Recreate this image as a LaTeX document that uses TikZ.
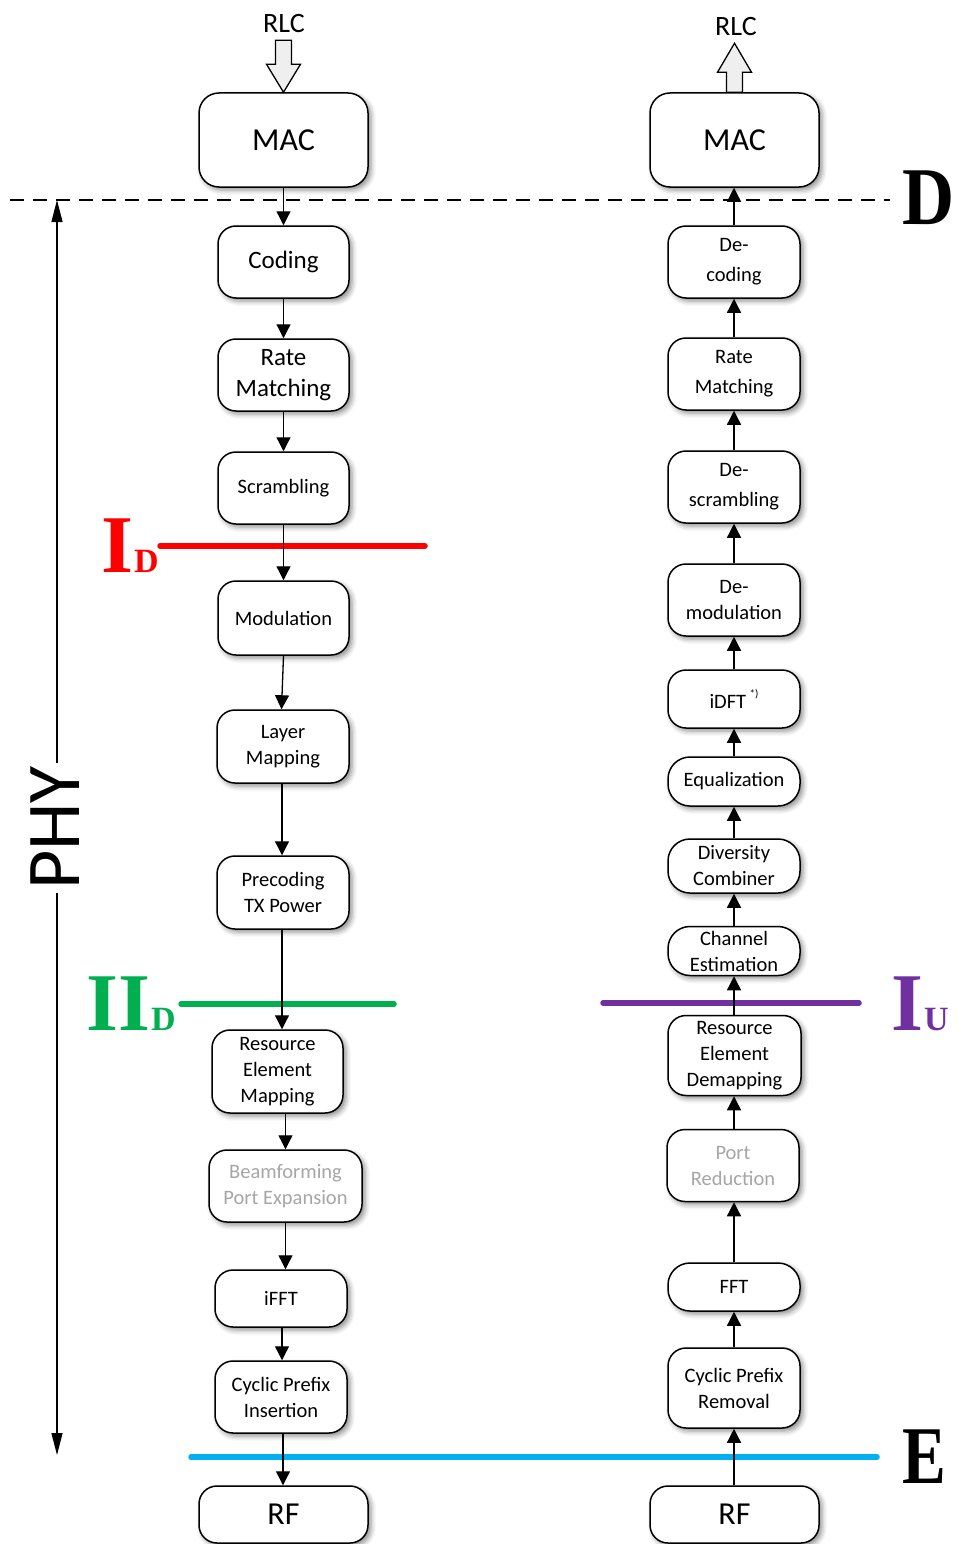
\documentclass[tikz,border=0pt]{standalone}
\usepackage{fontspec}
\setmainfont{Carlito}
\newfontfamily\lserif{Liberation Serif}
\usetikzlibrary{arrows.meta,shadows.blur}
\definecolor{cred}{RGB}{255,0,0}
\definecolor{cgreen}{RGB}{0,176,80}
\definecolor{cpurple}{RGB}{112,48,160}
\definecolor{ccyan}{RGB}{0,176,240}
\definecolor{cgraytext}{RGB}{166,166,166}
\definecolor{cblock}{RGB}{239,239,239}
\newcommand\fsS{\fontsize{20.5}{26}\selectfont}
\newcommand\fsW{\fontsize{20.5}{30}\selectfont}
\newcommand\fsM{\fontsize{25}{31}\selectfont}
\newcommand\fsL{\fontsize{32}{36}\selectfont}
\newcommand\subsz{\fontsize{34}{34}\selectfont\kern1pt}
\begin{document}
\begin{tikzpicture}[x=1pt,y=-1pt,
  box/.style={draw, line width=1.5pt, rounded corners=18pt, fill=white, align=center, inner sep=0pt, font=\fsS,
    blur shadow={shadow xshift=3pt, shadow yshift=-3pt, shadow blur radius=5pt, shadow opacity=45}},
  bx/.style 2 args={minimum width=#1pt, minimum height=#2pt},
  conn/.style={line width=1.3pt, -{Triangle[length=14pt,width=14pt]}},
  blockarrow/.style={draw, line width=1.3pt, fill=cblock, line join=miter},
  lbl/.style={anchor=base west, inner sep=0pt, font=\lserif\bfseries},
  cut/.style={line width=5.5pt, line cap=round},
  ghost/.style={text=cgraytext}
]
\useasboundingbox (0,0) rectangle (964,1544);

% ---------- left column (downlink) ----------
\node[box,bx={169}{94},font=\fsL,rounded corners=20pt] (lmac) at (283.5,140) {MAC};
\node[box,bx={131}{72},font=\fsM] (lcod) at (283.5,262) {Coding};
\node[box,bx={131}{72},font=\fsM] (lrm) at (283.5,375) {Rate\\Matching};
\node[box,bx={131}{72}] (lscr) at (283.5,488) {Scrambling};
\node[box,bx={131}{74}] (lmod) at (283.5,618) {Modulation};
\node[box,bx={132}{73}] (llay) at (283,746.5) {Layer\\Mapping};
\node[box,bx={132}{73}] (lpre) at (283,892.5) {Precoding\\TX Power};
\node[box,bx={131}{83}] (lrem) at (277.5,1071.5) {Resource\\Element\\Mapping};
\node[box,bx={153}{72},ghost] (lbf) at (285.5,1186) {Beamforming\\Port Expansion};
\node[box,bx={132}{57}] (lifft) at (281,1298.5) {iFFT};
\node[box,bx={132}{72}] (lcp) at (281,1397) {Cyclic Prefix\\Insertion};
\node[box,bx={169}{57},font=\fsL] (lrf) at (283.5,1514.5) {RF};

% ---------- right column (uplink) ----------
\node[box,bx={169}{94},font=\fsL,rounded corners=20pt] (rmac) at (734.5,140) {MAC};
\node[box,bx={132}{72},font=\fsW] (rdec) at (734,262) {De-\\coding};
\node[box,bx={132}{72},font=\fsW] (rrm) at (734,374) {Rate\\Matching};
\node[box,bx={132}{72},font=\fsW] (rdes) at (734,487) {De-\\scrambling};
\node[box,bx={132}{72}] (rdem) at (734,600) {De-\\modulation};
\node[box,bx={132}{58}] (ridft) at (734,699) {iDFT\,\raisebox{0.55em}{\fontsize{11}{11}\selectfont *)}};
\node[box,bx={132}{49},rounded corners=22pt] (requ) at (734,781.5) {Equalization};
\node[box,bx={132}{54},rounded corners=22pt] (rdiv) at (734,866) {Diversity\\Combiner};
\node[box,bx={132}{49},rounded corners=22pt] (rche) at (734,951) {Channel\\Estimation};
\node[box,bx={133}{80}] (rred) at (734.5,1055.5) {Resource\\Element\\Demapping};
\node[box,bx={132}{72},ghost] (rpor) at (733,1165.5) {Port\\Reduction};
\node[box,bx={132}{48},rounded corners=22pt] (rfft) at (734,1287) {FFT};
\node[box,bx={132}{80}] (rcpr) at (734,1388) {Cyclic Prefix\\Removal};
\node[box,bx={169}{57},font=\fsL] (rrf) at (734.5,1514.5) {RF};

% ---------- RLC block arrows ----------
\node[font=\fontsize{28}{30}\selectfont, inner sep=0pt] (rlcl) at (284,24) {RLC};
\node[font=\fontsize{28}{30}\selectfont, inner sep=0pt] (rlcr) at (736,27) {RLC};
\draw[blockarrow] (lmac.north) -- ++(-17,-28) -- ++(9,0) -- ++(0,-24) -- ++(16,0) -- ++(0,24) -- ++(9,0) -- cycle;
\draw[blockarrow] ([xshift=-8pt]rmac.north) -- ++(0,-20) -- ++(-9,0) -- ++(17,-29) -- ++(17,29) -- ++(-9,0) -- ++(0,20) -- cycle;

% ---------- reference lines ----------
\coordinate (dl) at (10,200);
\coordinate (dr) at (890,200);
\draw[line width=1.3pt, dash pattern=on 14pt off 9pt] (dl) -- (dr);
\node[lbl] (labD) at (902,224) {\fontsize{82}{82}\selectfont\scalebox{0.88}[1]{D}};

\coordinate (el) at (191,1457);
\coordinate (er) at (877,1457);
\draw[cut, ccyan] (el) -- (er);
\node[lbl] (labE) at (902,1483) {\fontsize{82}{82}\selectfont\scalebox{0.8}[1]{E}};

\coordinate (idl) at (160,546);
\coordinate (idr) at (425,546);
\draw[cut, cred] (idl) -- (idr);
\node[lbl, text=cred] (labID) at (101,572) {\fontsize{82}{82}\selectfont I\subsz D};

\coordinate (iidl) at (181,1004);
\coordinate (iidr) at (394,1004);
\draw[cut, cgreen] (iidl) -- (iidr);
\node[lbl, text=cgreen] (labIID) at (86,1030) {\fontsize{82}{82}\selectfont II\subsz D};

\coordinate (iul) at (603,1003);
\coordinate (iur) at (859,1003);
\draw[cut, cpurple] (iul) -- (iur);
\node[lbl, text=cpurple] (labIU) at (891,1030) {\fontsize{82}{82}\selectfont I\subsz U};

% ---------- PHY span ----------
\coordinate (phytop) at (57,200);
\coordinate (phybot) at (57,1455);
\draw[line width=1.3pt, {Triangle[length=22pt,width=11pt]}-{Triangle[length=22pt,width=11pt]}] (phytop) -- (phybot);
\node[fill=white, rotate=90, inner sep=3pt, font=\fontsize{76}{80}\selectfont] (phy) at (55,828) {PHY};

% ---------- left connectors ----------
\draw[conn] (lmac.south) -- (lcod.north);
\draw[conn] (lcod.south) -- (lrm.north);
\draw[conn] (lrm.south) -- (lscr.north);
\draw[conn] (lscr.south) -- (lmod.north);
\draw[conn] (lmod.south) -- ([xshift=-1.5pt]llay.north);
\draw[conn] ([xshift=-1pt]llay.south) -- ([xshift=-1pt]llay.south |- lpre.north);
\draw[conn] ([xshift=-1pt]lpre.south) -- ([xshift=-1pt]lpre.south |- lrem.north);
\draw[conn] (lbf.north |- lrem.south) -- (lbf.north);
\draw[conn] (lbf.south) -- (lbf.south |- lifft.north);
\draw[conn] ([xshift=1pt]lifft.south) -- ([xshift=1pt]lcp.north);
\draw[conn] ([xshift=2pt]lcp.south) -- ([xshift=2pt]lcp.south |- lrf.north);

% ---------- right connectors ----------
\draw[conn] (rdec.north) -- (rdec.north |- rmac.south);
\draw[conn] (rrm.north) -- (rdec.south);
\draw[conn] (rdes.north) -- (rrm.south);
\draw[conn] (rdem.north) -- (rdes.south);
\draw[conn] (ridft.north) -- (rdem.south);
\draw[conn] (requ.north) -- (ridft.south);
\draw[conn] (rdiv.north) -- (requ.south);
\draw[conn] (rche.north) -- (rdiv.south);
\draw[conn] (rche.south |- rred.north) -- (rche.south);
\draw[conn] (rche.south |- rpor.north) -- (rche.south |- rred.south);
\draw[conn] (rche.south |- rfft.north) -- (rche.south |- rpor.south);
\draw[conn] (rcpr.north) -- (rfft.south);
\draw[conn] (rcpr.south |- rrf.north) -- (rcpr.south);
\end{tikzpicture}
\end{document}
